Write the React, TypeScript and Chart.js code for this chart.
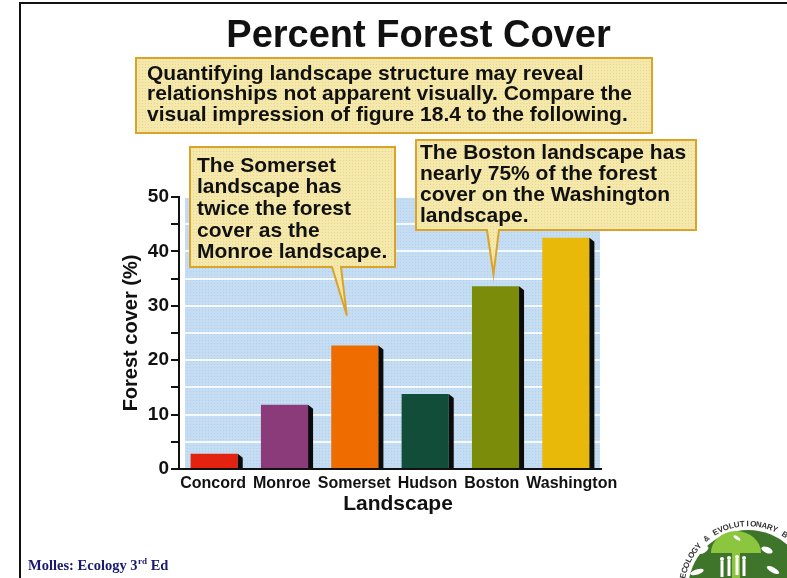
import React, { useEffect, useRef } from "react";
import { Chart, registerables } from "chart.js";

Chart.register(...registerables);

// ---- data ----
const landscapes = ["Concord", "Monroe", "Somerset", "Hudson", "Boston", "Washington"];
const forestCover = [2.8, 11.8, 22.7, 13.8, 33.6, 42.5];
const barColors = ["#e3230f", "#8b3b7a", "#ef6c00", "#124d3a", "#7b8c0a", "#e9b90a"];
const yMin = 0;
const yMax = 50;
const yStep = 5;
const yLabelEvery = 10;

// ---- text ----
const chartTitle = "Percent Forest Cover";
const introNote = [
  "Quantifying landscape structure may reveal",
  "relationships not apparent visually. Compare the",
  "visual impression of figure 18.4 to the following.",
];
const somersetNote = ["The Somerset", "landscape has", "twice the forest", "cover as the", "Monroe landscape."];
const bostonNote = ["The Boston landscape has", "nearly 75% of the forest", "cover on the Washington", "landscape."];
const yAxisTitle = "Forest cover (%)";
const xAxisTitle = "Landscape";
const creditMain = "Molles: Ecology 3";
const creditSup = "rd";
const creditTail = " Ed";
const logoText = "ECOLOGY & EVOLUTIONARY BIOLOGY";

const SANS = '"Liberation Sans", Arial, Helvetica, sans-serif';
const SERIF = '"Liberation Serif", "Times New Roman", serif';
const INK = "#111111";

type Box = { l: number; t: number; r: number; b: number };

// small halftone tile used for the printed-screen look of fills
function dotPattern(ctx: CanvasRenderingContext2D, base: string, dot: string): CanvasPattern | string {
  const tile = document.createElement("canvas");
  tile.width = 3;
  tile.height = 3;
  const t = tile.getContext("2d");
  if (!t) return base;
  t.fillStyle = base;
  t.fillRect(0, 0, 3, 3);
  t.fillStyle = dot;
  t.fillRect(1, 1, 1, 1);
  return ctx.createPattern(tile, "repeat") || base;
}

function drawCallout(
  ctx: CanvasRenderingContext2D,
  box: Box,
  lines: string[],
  textX: number,
  firstBaseline: number,
  lineGap: number,
  pointer?: { b0: number; b1: number; tx: number; ty: number }
) {
  ctx.save();
  ctx.beginPath();
  ctx.moveTo(box.l, box.t);
  ctx.lineTo(box.r, box.t);
  ctx.lineTo(box.r, box.b);
  if (pointer) {
    ctx.lineTo(pointer.b1, box.b);
    ctx.lineTo(pointer.tx, pointer.ty);
    ctx.lineTo(pointer.b0, box.b);
  }
  ctx.lineTo(box.l, box.b);
  ctx.closePath();
  ctx.fillStyle = dotPattern(ctx, "#f4e8aa", "#e6d690");
  ctx.fill();
  ctx.lineWidth = 2;
  ctx.strokeStyle = "#d9a32c";
  ctx.stroke();
  ctx.fillStyle = INK;
  ctx.font = `bold 21px ${SANS}`;
  ctx.textAlign = "left";
  ctx.textBaseline = "alphabetic";
  lines.forEach((ln, i) => ctx.fillText(ln, textX, firstBaseline + i * lineGap));
  ctx.restore();
}

function drawLogo(ctx: CanvasRenderingContext2D) {
  const cx = 748;
  const cy = 590;
  const r = 60;
  ctx.save();
  // lettering around the rim
  ctx.fillStyle = "#333333";
  ctx.font = `bold 8px ${SANS}`;
  ctx.textAlign = "center";
  ctx.textBaseline = "middle";
  const rt = 66;
  const start = (-170 * Math.PI) / 180;
  const span = (145 * Math.PI) / 180;
  const chars = logoText.split("");
  chars.forEach((ch, i) => {
    const a = start + (span * (i + 0.5)) / chars.length;
    ctx.save();
    ctx.translate(cx + rt * Math.cos(a), cy + rt * Math.sin(a));
    ctx.rotate(a + Math.PI / 2);
    ctx.fillText(ch, 0, 0);
    ctx.restore();
  });
  // dark green disc
  ctx.fillStyle = "#3f752b";
  ctx.beginPath();
  ctx.arc(cx, cy, r, 0, Math.PI * 2);
  ctx.fill();
  // tree canopy and trunk
  ctx.fillStyle = "#8cc63f";
  ctx.beginPath();
  ctx.ellipse(cx - 12, cy - 37, 25, 22, 0, Math.PI, 0);
  ctx.closePath();
  ctx.fill();
  ctx.fillRect(cx - 16, cy - 38, 8, 30);
  // white silhouettes
  ctx.fillStyle = "#ffffff";
  const people = [
    [cx - 26, cy - 31],
    [cx - 19, cy - 32],
    [cx - 11, cy - 33],
    [cx - 4, cy - 32],
  ];
  people.forEach(([px, py]) => {
    ctx.beginPath();
    ctx.arc(px, py, 2, 0, Math.PI * 2);
    ctx.fill();
    ctx.fillRect(px - 1.5, py + 2, 3, 16);
  });
  ctx.beginPath();
  ctx.ellipse(cx - 45, cy - 40, 6, 3, -0.5, 0, Math.PI * 2);
  ctx.fill();
  ctx.beginPath();
  ctx.ellipse(cx + 19, cy - 40, 6, 3, 0.4, 0, Math.PI * 2);
  ctx.fill();
  ctx.beginPath();
  ctx.ellipse(cx - 51, cy - 18, 7, 2.5, -0.3, 0, Math.PI * 2);
  ctx.fill();
  ctx.beginPath();
  ctx.ellipse(cx + 25, cy - 20, 7, 2.5, 0.5, 0, Math.PI * 2);
  ctx.fill();
  ctx.beginPath();
  ctx.ellipse(cx - 11, cy - 52, 4, 1.5, 0.6, 0, Math.PI * 2);
  ctx.fill();
  ctx.restore();
}

const decorPlugin = {
  id: "decor",
  beforeDraw(chart: any) {
    const { ctx, chartArea } = chart;
    ctx.save();
    ctx.fillStyle = "#ffffff";
    ctx.fillRect(0, 0, chart.width, chart.height);
    // light blue plotting field
    ctx.fillStyle = dotPattern(ctx, "#c4ddf2", "#b3cfe9");
    ctx.fillRect(
      chartArea.left + 6,
      chartArea.top,
      chartArea.right - chartArea.left - 7,
      chartArea.bottom - chartArea.top
    );
    ctx.restore();
  },
  afterDatasetsDraw(chart: any) {
    const { ctx } = chart;
    const meta = chart.getDatasetMeta(0);
    ctx.save();
    ctx.fillStyle = "#0b0b0b";
    meta.data.forEach((bar: any) => {
      const { x, y, base, width } = bar.getProps(["x", "y", "base", "width"], true);
      const right = x + width / 2;
      ctx.beginPath();
      ctx.moveTo(right, y);
      ctx.lineTo(right + 5, y + 4);
      ctx.lineTo(right + 5, base);
      ctx.lineTo(right, base);
      ctx.closePath();
      ctx.fill();
    });
    ctx.restore();
  },
  afterDraw(chart: any) {
    const { ctx } = chart;
    const meta = chart.getDatasetMeta(0);
    const xScale = chart.scales.x;
    const somerset = meta.data[landscapes.indexOf("Somerset")];
    const boston = meta.data[landscapes.indexOf("Boston")];

    ctx.save();
    // frame
    ctx.fillStyle = INK;
    ctx.fillRect(19, 2, 768, 2);
    ctx.fillRect(19, 2, 2, 576);

    // title
    ctx.fillStyle = INK;
    ctx.font = `bold 38px ${SANS}`;
    ctx.textAlign = "center";
    ctx.textBaseline = "alphabetic";
    ctx.fillText(chartTitle, 418.5, 46.5);

    // category labels: start under each bar, then spread apart where they would collide
    ctx.font = `bold 16px ${SANS}`;
    const minGap = 7;
    const items = landscapes.map((lab, i) => ({
      lab,
      w: ctx.measureText(lab).width,
      c: xScale.getPixelForTick(i),
    }));
    for (let iter = 0; iter < 200; iter++) {
      for (let i = 0; i < items.length - 1; i++) {
        const gap = items[i + 1].c - items[i + 1].w / 2 - (items[i].c + items[i].w / 2);
        if (gap < minGap) {
          const d = (minGap - gap) / 2;
          items[i].c -= d;
          items[i + 1].c += d;
        }
      }
    }
    items.forEach((it) => ctx.fillText(it.lab, it.c, xScale.top + 19));

    // x axis title
    ctx.font = `bold 21px ${SANS}`;
    ctx.fillText(xAxisTitle, 398, 510);

    // credit line
    ctx.fillStyle = "#191970";
    ctx.textAlign = "left";
    ctx.font = `bold 14.5px ${SERIF}`;
    let px = 28;
    ctx.fillText(creditMain, px, 569.5);
    px += ctx.measureText(creditMain).width;
    ctx.font = `bold 9px ${SERIF}`;
    ctx.fillText(creditSup, px + 0.5, 564);
    px += ctx.measureText(creditSup).width + 0.5;
    ctx.font = `bold 14.5px ${SERIF}`;
    ctx.fillText(creditTail, px, 569.5);
    ctx.restore();

    drawCallout(ctx, { l: 136, t: 58, r: 652, b: 133 }, introNote, 147, 79.5, 20.8);
    drawCallout(ctx, { l: 190, t: 147, r: 395, b: 267 }, somersetNote, 197, 171.5, 21.7, {
      b0: 332,
      b1: 341,
      tx: somerset.x - 8,
      ty: somerset.y - 30,
    });
    drawCallout(ctx, { l: 416, t: 140, r: 696, b: 230 }, bostonNote, 420, 158.5, 21.1, {
      b0: 487,
      b1: 499,
      tx: boston.x - 2,
      ty: boston.y - 12,
    });

    drawLogo(ctx);
  },
};

export default function App() {
  const canvasRef = useRef<HTMLCanvasElement | null>(null);

  useEffect(() => {
    document.body.style.margin = "0";
    const canvas = canvasRef.current;
    if (!canvas) return;
    const chart = new Chart(canvas, {
      type: "bar",
      data: {
        labels: landscapes,
        datasets: [
          {
            data: forestCover,
            backgroundColor: barColors,
            borderWidth: 0,
            barPercentage: 0.67,
            categoryPercentage: 1,
          },
        ],
      },
      options: {
        animation: false,
        responsive: false,
        devicePixelRatio: 1,
        layout: { padding: { left: 0, top: 197, right: 186, bottom: 0 } },
        plugins: {
          legend: { display: false },
          tooltip: { enabled: false },
          title: { display: false },
        },
        scales: {
          x: {
            type: "category",
            grid: { display: false, drawTicks: false },
            border: { display: true, color: INK, width: 2, z: 1 },
            ticks: { display: false },
            afterFit: (s: any) => {
              s.height = 109;
            },
          },
          y: {
            min: yMin,
            max: yMax,
            ticks: {
              stepSize: yStep,
              color: INK,
              font: { family: SANS, weight: "bold", size: 19 },
              padding: 2,
              callback: (v: any) => (Number(v) % yLabelEvery === 0 ? String(v) : ""),
            },
            grid: {
              color: "rgba(255,255,255,0.85)",
              lineWidth: 2,
              tickColor: INK,
              tickWidth: 2,
              tickLength: 8,
              drawTicks: true,
            },
            border: { display: true, color: INK, width: 2, z: 1 },
            title: {
              display: true,
              text: yAxisTitle,
              color: INK,
              font: { family: SANS, weight: "bold", size: 20 },
              padding: { top: 119, bottom: 0 },
            },
            afterFit: (s: any) => {
              s.width = 179;
            },
          },
        },
      },
      plugins: [decorPlugin],
    } as any);
    return () => chart.destroy();
  }, []);

  return (
    <canvas
      ref={canvasRef}
      width={787}
      height={578}
      style={{ display: "block", width: 787, height: 578 }}
    />
  );
}
